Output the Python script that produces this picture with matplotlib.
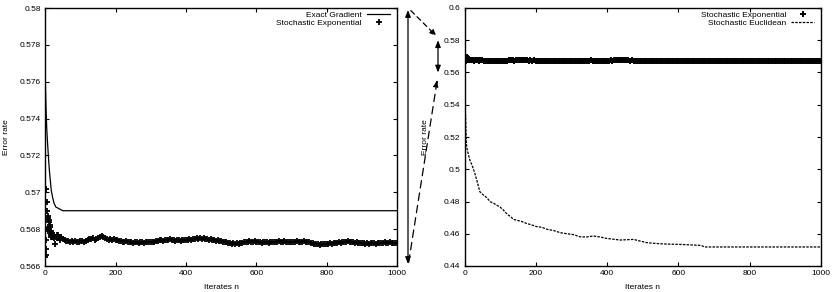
import matplotlib
matplotlib.use("Agg")
import matplotlib.pyplot as plt
from matplotlib.patches import ConnectionPatch, FancyArrowPatch

plt.rcParams['font.family'] = ['Liberation Sans', 'DejaVu Sans']
plt.rcParams['font.size'] = 6

# ---------------- data ----------------
exact_n = [0, 2, 4, 6, 8, 10, 12, 14, 17, 21, 25, 30, 40, 50, 1000]
exact_v = [0.5761, 0.5746, 0.5735, 0.5728, 0.5722, 0.5716, 0.5711, 0.5707,
           0.5701, 0.5697, 0.5694, 0.5692, 0.5691, 0.5690, 0.5690]

# early scattered stochastic-exponential iterates
sexp_early_n = [0, 0, 1, 1, 2, 3, 4, 5, 6, 7, 8, 9, 10, 11, 12, 13, 14, 15, 16,
                17, 18, 19, 20, 22, 24, 26, 28, 30, 32, 34, 36, 38, 40, 42, 44, 46]
sexp_early_v = [0.5665, 0.5680, 0.5702, 0.5666, 0.5674, 0.5669, 0.5690, 0.5680,
                0.5695, 0.5680, 0.5686, 0.5687, 0.5685, 0.5684, 0.5682, 0.5681,
                0.5678, 0.5677, 0.5676, 0.5679, 0.5677, 0.5676, 0.5678, 0.5676,
                0.5677, 0.5675, 0.5672, 0.5676, 0.5677, 0.5675, 0.5677, 0.5676,
                0.5676, 0.5674, 0.5676, 0.5675]
# stochastic-exponential iterates n = 50, 55, ..., 1000
sexp_late_n = list(range(50, 1001, 5))
sexp_late_v = [
    0.56745, 0.56740, 0.56735, 0.56735, 0.56730, 0.56735, 0.56730, 0.56735, 0.56730, 0.56730, 0.56735,
    0.56735, 0.56730, 0.56735, 0.56740, 0.56745, 0.56745, 0.56750, 0.56740, 0.56745, 0.56750,
    0.56760, 0.56765, 0.56755, 0.56750, 0.56745, 0.56740, 0.56745, 0.56740, 0.56745, 0.56740,
    0.56740, 0.56735, 0.56735, 0.56730, 0.56730, 0.56735, 0.56730, 0.56730, 0.56730, 0.56725,
    0.56730, 0.56730, 0.56725, 0.56730, 0.56730, 0.56725, 0.56730, 0.56730, 0.56730, 0.56730,
    0.56730, 0.56730, 0.56735, 0.56735, 0.56740, 0.56740, 0.56735, 0.56740, 0.56740, 0.56740,
    0.56745, 0.56740, 0.56740, 0.56735, 0.56740, 0.56740, 0.56735, 0.56740, 0.56740, 0.56740,
    0.56740, 0.56745, 0.56740, 0.56745, 0.56745, 0.56750, 0.56745, 0.56750, 0.56745, 0.56750,
    0.56745, 0.56745, 0.56740, 0.56745, 0.56740, 0.56740, 0.56735, 0.56740, 0.56735, 0.56735,
    0.56730, 0.56730, 0.56730, 0.56725, 0.56725, 0.56720, 0.56725, 0.56720, 0.56725, 0.56720,
    0.56725, 0.56725, 0.56730, 0.56730, 0.56730, 0.56735, 0.56730, 0.56730, 0.56735, 0.56730,
    0.56730, 0.56730, 0.56725, 0.56730, 0.56730, 0.56730, 0.56725, 0.56730, 0.56730, 0.56730,
    0.56730, 0.56730, 0.56735, 0.56730, 0.56730, 0.56735, 0.56730, 0.56730, 0.56730, 0.56730,
    0.56730, 0.56730, 0.56735, 0.56730, 0.56730, 0.56730, 0.56735, 0.56730, 0.56730, 0.56730,
    0.56725, 0.56725, 0.56720, 0.56720, 0.56720, 0.56715, 0.56720, 0.56720, 0.56720, 0.56720,
    0.56720, 0.56725, 0.56720, 0.56725, 0.56725, 0.56725, 0.56730, 0.56725, 0.56730, 0.56730,
    0.56730, 0.56735, 0.56730, 0.56730, 0.56730, 0.56725, 0.56730, 0.56725, 0.56725, 0.56725,
    0.56725, 0.56720, 0.56725, 0.56720, 0.56725, 0.56725, 0.56725, 0.56720, 0.56725, 0.56725,
    0.56725, 0.56725, 0.56730, 0.56725, 0.56725, 0.56730, 0.56725, 0.56725, 0.56725, 0.56725,
]
sexp_n = sexp_early_n + sexp_late_n
sexp_v = sexp_early_v + sexp_late_v

seuc_n = [0, 1, 2, 4, 6, 10, 15, 22, 29, 36, 43, 53, 62, 72, 81, 90, 100, 109,
          116, 123, 130, 137, 150, 162, 174, 188, 203, 217, 231, 250, 268, 287,
          305, 324, 342, 361, 380, 399, 418, 436, 455, 474, 492, 511, 530, 549,
          567, 586, 605, 623, 642, 660, 668, 672, 1000]
seuc_v = [0.5667, 0.5560, 0.5400, 0.5250, 0.5140, 0.5100, 0.5057, 0.5020,
          0.4975, 0.4920, 0.4861, 0.4840, 0.4825, 0.4799, 0.4790, 0.4778,
          0.4765, 0.4747, 0.4730, 0.4716, 0.4705, 0.4689, 0.4682, 0.4675,
          0.4664, 0.4655, 0.4644, 0.4640, 0.4628, 0.4620, 0.4607, 0.4600,
          0.4595, 0.4581, 0.4580, 0.4586, 0.4580, 0.4571, 0.4566, 0.4561,
          0.4563, 0.4565, 0.4555, 0.4545, 0.4541, 0.4538, 0.4536, 0.4535,
          0.4534, 0.4532, 0.4530, 0.4528, 0.4524, 0.4518, 0.4518]

x_ticks = [0, 200, 400, 600, 800, 1000]
left_yticks = [0.566, 0.568, 0.57, 0.572, 0.574, 0.576, 0.578, 0.58]
left_ylabels = ['0.566', '0.568', '0.57', '0.572', '0.574', '0.576', '0.578', '0.58']
right_yticks = [0.44, 0.46, 0.48, 0.5, 0.52, 0.54, 0.56, 0.58, 0.6]
right_ylabels = ['0.44', '0.46', '0.48', '0.5', '0.52', '0.54', '0.56', '0.58', '0.6']

# ---------------- figure ----------------
W, H = 832, 292
fig = plt.figure(figsize=(W / 100, H / 100), dpi=100)
axL = fig.add_axes([45.3 / W, 1 - 266 / H, 351.7 / W, 258 / H])
axR = fig.add_axes([464.5 / W, 1 - 266 / H, 356.5 / W, 258 / H])


def style(ax):
    ax.tick_params(direction='in', length=3, width=0.8, top=True, right=True,
                   labelsize=6, pad=3, colors='black')
    for s in ax.spines.values():
        s.set_linewidth(1.0)
    ax.set_xlim(0, 1000)
    ax.set_xticks(x_ticks)
    ax.set_xlabel('Iterates n', fontsize=6, labelpad=5)


leg_kw = dict(loc='upper right', frameon=False, markerfirst=False, fontsize=6,
              handlelength=2.8, handletextpad=0.6, labelspacing=0.02,
              borderpad=0.2, borderaxespad=0.6, bbox_to_anchor=(1.0, 1.012))

# Left
axL.plot(exact_n, exact_v, color='black', lw=0.9, label='Exact Gradient')
axL.plot(sexp_n, sexp_v, linestyle='none', marker='+', ms=4.2, mew=1.3,
         color='black', label='Stochastic Exponential')
style(axL)
axL.set_ylim(0.566, 0.58)
axL.set_yticks(left_yticks)
axL.set_yticklabels(left_ylabels)
axL.set_ylabel('Error rate', fontsize=6)
axL.yaxis.set_label_coords((10 - 45.3) / 351.7, 0.5)
axL.legend(**leg_kw)

# Right
axR.plot(sexp_n, sexp_v, linestyle='none', marker='+', ms=4.2, mew=1.4,
         color='black', label='Stochastic Exponential')
axR.plot(seuc_n, seuc_v, color='black', lw=0.9, linestyle=(0, (2, 1)),
         label='Stochastic Euclidean')
style(axR)
axR.set_ylim(0.44, 0.6)
axR.set_yticks(right_yticks)
axR.set_yticklabels(right_ylabels)
axR.set_ylabel('Error rate', fontsize=6)
axR.yaxis.set_label_coords((429 - 464.5) / 356.5, 0.5)
axR.legend(**leg_kw)

# Zoom annotation arrows
xl = (408 - 45.3) / 351.7
xr = (438 - 464.5) / 356.5
arrL = FancyArrowPatch((xl, 0.008), (xl, 0.992), transform=axL.transAxes,
                       arrowstyle='<|-|>,head_length=4,head_width=1.6',
                       color='black', lw=0.9, clip_on=False, shrinkA=0, shrinkB=0,
                       mutation_scale=1)
axL.add_artist(arrL)
arrR = FancyArrowPatch((xr, 0.56), (xr, 0.58),
                       transform=axR.get_yaxis_transform(),
                       arrowstyle='<|-|>,head_length=4,head_width=1.6',
                       color='black', lw=0.9, clip_on=False, shrinkA=0, shrinkB=0,
                       mutation_scale=1)
axR.add_artist(arrR)

c1 = ConnectionPatch(xyA=(xl + 0.008, 0.99), coordsA=axL.transAxes,
                     xyB=(xr - 0.004, 0.5825), coordsB=axR.get_yaxis_transform(),
                     arrowstyle='-|>,head_length=4,head_width=1.6',
                     linestyle=(0, (4, 3)), color='black', lw=0.9,
                     shrinkA=0, shrinkB=0, mutation_scale=1)
fig.add_artist(c1)
c2 = ConnectionPatch(xyA=(xl + 0.002, 0.015), coordsA=axL.transAxes,
                     xyB=(xr - 0.002, 0.5555), coordsB=axR.get_yaxis_transform(),
                     arrowstyle='-|>,head_length=4,head_width=1.6',
                     linestyle=(0, (6, 4)), color='black', lw=0.9,
                     shrinkA=0, shrinkB=0, mutation_scale=1)
fig.add_artist(c2)

fig.savefig('out.png', dpi=100)
